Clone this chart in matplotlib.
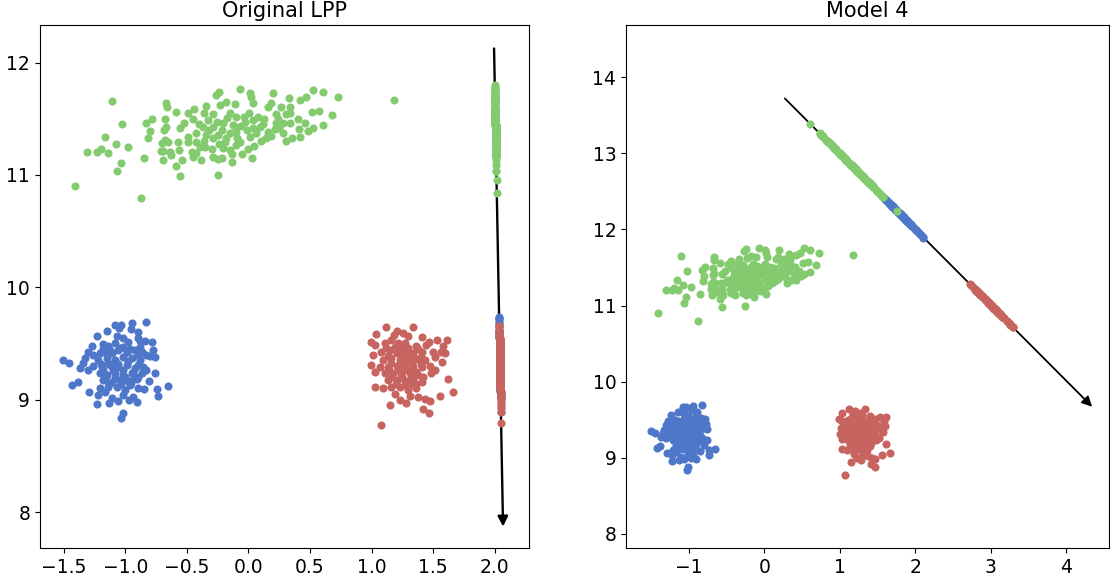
import numpy as np
import matplotlib
matplotlib.use('Agg')
import matplotlib.pyplot as plt

# cluster points (x, y)
green_points = [
    (-1.111, 11.657), (1.181, 11.666), (-1.411, 10.898), (-0.875, 10.791), (-1.308, 11.207),
    (-1.227, 11.207), (-1.197, 11.230), (-1.143, 11.200), (-1.162, 11.337), (-1.078, 11.275),
    (-1.029, 11.450), (-0.975, 11.248), (-1.035, 11.106), (-1.065, 11.038), (-0.848, 11.147),
    (-0.556, 10.987), (-0.250, 10.996), (-0.827, 11.465), (-0.783, 11.500), (-0.800, 11.394),
    (-0.813, 11.325), (-0.066, 11.761), (-0.242, 11.740), (-0.266, 11.711), (0.015, 11.726),
    (0.023, 11.696), (0.199, 11.726), (0.326, 11.681), (0.418, 11.669), (0.472, 11.690),
    (0.526, 11.755), (0.610, 11.735), (0.726, 11.690), (0.034, 11.643), (0.185, 11.643),
    (-0.110, 11.631), (-0.183, 11.646), (-0.231, 11.619), (-0.670, 11.643), (-0.664, 11.601),
    (-0.340, 11.616), (-0.442, 11.583), (-0.488, 11.548), (-0.586, 11.557), (-0.286, 11.539),
    (-0.358, 11.548), (-0.150, 11.548), (-0.102, 11.518), (-0.037, 11.512), (0.004, 11.548),
    (0.077, 11.512), (0.126, 11.497), (0.156, 11.607), (0.267, 11.607), (0.223, 11.542),
    (0.302, 11.542), (0.342, 11.601), (0.340, 11.548), (0.518, 11.560), (0.575, 11.571),
    (0.683, 11.530), (0.608, 11.444), (0.521, 11.417), (0.481, 11.394), (0.408, 11.405),
    (0.342, 11.459), (0.283, 11.459), (0.221, 11.459), (0.215, 11.411), (0.278, 11.376),
    (0.351, 11.331), (0.416, 11.340), (0.305, 11.302), (0.156, 11.385), (0.142, 11.325),
    (0.094, 11.429), (0.039, 11.414), (-0.015, 11.399), (0.012, 11.340), (-0.069, 11.296),
    (-0.096, 11.325), (0.047, 11.260), (-0.053, 11.189), (0.028, 11.147), (-0.131, 11.186),
    (-0.131, 11.112), (-0.218, 11.147), (-0.245, 11.138), (-0.296, 11.228), (-0.204, 11.236),
    (-0.191, 11.296), (-0.150, 11.370), (-0.218, 11.399), (-0.286, 11.429), (-0.258, 11.474),
    (-0.204, 11.459), (-0.123, 11.444), (-0.177, 11.503), (-0.326, 11.488), (-0.367, 11.429),
    (-0.340, 11.355), (-0.286, 11.325), (-0.421, 11.370), (-0.421, 11.296), (-0.394, 11.251),
    (-0.421, 11.192), (-0.448, 11.162), (-0.388, 11.132), (-0.488, 11.296), (-0.494, 11.340),
    (-0.524, 11.459), (-0.556, 11.414), (-0.570, 11.296), (-0.561, 11.221), (-0.542, 11.132),
    (-0.588, 11.082), (-0.624, 11.177), (-0.656, 11.296), (-0.678, 11.310), (-0.691, 11.216),
    (-0.713, 11.216), (-0.691, 11.132), (-0.705, 11.287), (-0.686, 11.399), (-0.678, 11.494),
    (-0.670, 11.429), (-0.637, 11.207), (-0.459, 11.207), (-0.286, 11.162), (0.034, 11.488),
    (-0.060, 11.440), (-0.100, 11.380), (0.100, 11.300), (0.250, 11.420), (-0.350, 11.250),
    (-0.400, 11.450), (-0.320, 11.400), (-0.250, 11.360), (-0.180, 11.330), (-0.100, 11.430),
    (-0.030, 11.470), (0.060, 11.370), (0.120, 11.450), (-0.360, 11.300), (-0.240, 11.280),
    (-0.100, 11.270), (0.000, 11.230), (0.180, 11.350), (0.240, 11.500), (-0.450, 11.500),
    (0.400, 11.500), (0.460, 11.460), (-0.150, 11.220),
]

blue_points = [
    (-0.827, 9.691), (-1.084, 9.665), (-1.035, 9.665), (-1.049, 9.635), (-0.946, 9.679),
    (-0.956, 9.629), (-0.892, 9.605), (-1.151, 9.608), (-1.232, 9.567), (-1.065, 9.570),
    (-1.016, 9.549), (-0.976, 9.516), (-0.900, 9.549), (-0.881, 9.522), (-0.840, 9.525),
    (-0.781, 9.510), (-1.273, 9.478), (-1.184, 9.496), (-1.084, 9.501), (-1.021, 9.472),
    (-0.772, 9.442), (-1.300, 9.427), (-1.327, 9.368), (-1.341, 9.329), (-1.508, 9.353),
    (-1.454, 9.329), (-1.368, 9.279), (-1.300, 9.264), (-1.265, 9.300), (-1.205, 9.413),
    (-1.165, 9.427), (-1.111, 9.413), (-1.057, 9.442), (-0.989, 9.427), (-0.921, 9.442),
    (-0.867, 9.427), (-0.827, 9.398), (-1.219, 9.353), (-1.151, 9.368), (-1.084, 9.353),
    (-1.016, 9.383), (-0.948, 9.368), (-0.881, 9.353), (-1.192, 9.294), (-1.124, 9.309),
    (-1.057, 9.294), (-0.989, 9.309), (-0.921, 9.279), (-0.854, 9.294), (-0.827, 9.264),
    (-1.205, 9.234), (-1.151, 9.220), (-1.084, 9.234), (-1.016, 9.220), (-0.948, 9.234),
    (-0.894, 9.205), (-0.759, 9.234), (-1.178, 9.175), (-1.111, 9.160), (-1.043, 9.175),
    (-0.975, 9.169), (-0.908, 9.181), (-0.805, 9.169), (-1.387, 9.160), (-1.430, 9.131),
    (-1.205, 9.101), (-1.138, 9.110), (-1.070, 9.116), (-1.002, 9.086), (-0.900, 9.107),
    (-0.848, 9.092), (-0.740, 9.098), (-0.656, 9.122), (-1.295, 9.068), (-1.219, 9.042),
    (-1.165, 9.071), (-1.111, 9.012), (-1.062, 8.988), (-1.016, 9.042), (-0.967, 8.997),
    (-0.940, 9.027), (-0.908, 8.979), (-0.732, 9.033), (-1.227, 8.962), (-1.016, 8.885),
    (-1.030, 8.834), (-1.130, 8.970), (-0.880, 9.470), (-0.800, 9.390), (-0.760, 9.380),
    (-1.260, 9.400), (-1.140, 9.480), (-0.960, 9.130), (-1.090, 9.290),
    (-1.180, 9.450), (-1.120, 9.440), (-1.040, 9.460), (-0.960, 9.450), (-0.900, 9.400),
    (-1.200, 9.320), (-1.140, 9.330), (-1.060, 9.320), (-0.980, 9.340), (-0.900, 9.310),
    (-1.180, 9.260), (-1.100, 9.260), (-1.020, 9.260), (-0.940, 9.250), (-0.860, 9.240),
    (-1.160, 9.190), (-1.080, 9.190), (-1.000, 9.200), (-0.930, 9.200), (-1.130, 9.140),
    (-1.030, 9.140), (-0.950, 9.150),
]

red_points = [
    (1.116, 9.644), (1.333, 9.644), (1.035, 9.584), (1.203, 9.614), (1.257, 9.590),
    (1.297, 9.567), (0.992, 9.516), (1.027, 9.487), (1.108, 9.501), (1.162, 9.531),
    (1.216, 9.501), (1.270, 9.501), (1.406, 9.555), (1.468, 9.516), (1.533, 9.531),
    (1.614, 9.531), (1.446, 9.487), (1.581, 9.478), (1.013, 9.398), (1.081, 9.427),
    (1.148, 9.442), (1.203, 9.413), (1.270, 9.427), (1.338, 9.413), (1.406, 9.427),
    (1.500, 9.427), (1.568, 9.427), (1.595, 9.413), (1.094, 9.353), (1.162, 9.368),
    (1.230, 9.353), (1.297, 9.353), (1.365, 9.359), (1.433, 9.353), (1.514, 9.383),
    (1.576, 9.338), (0.999, 9.309), (1.067, 9.294), (1.135, 9.294), (1.203, 9.300),
    (1.270, 9.288), (1.338, 9.294), (1.406, 9.288), (1.473, 9.300), (1.514, 9.264),
    (1.027, 9.249), (1.108, 9.234), (1.176, 9.240), (1.243, 9.229), (1.311, 9.234),
    (1.379, 9.220), (1.479, 9.234), (1.135, 9.175), (1.203, 9.175), (1.270, 9.169),
    (1.338, 9.175), (1.406, 9.160), (1.617, 9.184), (1.027, 9.116), (1.094, 9.101),
    (1.162, 9.116), (1.230, 9.110), (1.297, 9.086), (1.365, 9.101), (1.663, 9.065),
    (1.311, 9.033), (1.379, 9.021), (1.433, 9.003), (1.473, 8.991), (1.554, 9.033),
    (1.230, 8.997), (1.148, 8.950), (1.284, 8.968), (1.419, 8.914), (1.465, 8.879),
    (1.073, 8.772), (1.180, 9.580), (1.360, 9.480), (1.250, 9.460), (1.320, 9.140),
    (1.190, 9.050),
    (1.120, 9.460), (1.190, 9.470), (1.300, 9.460), (1.380, 9.450), (1.130, 9.390),
    (1.250, 9.390), (1.310, 9.390), (1.400, 9.380), (1.160, 9.330), (1.260, 9.320),
    (1.330, 9.330), (1.400, 9.320), (1.140, 9.260), (1.220, 9.260), (1.290, 9.260),
    (1.360, 9.250), (1.170, 9.200), (1.250, 9.200), (1.320, 9.200), (1.420, 9.200),
    (1.200, 9.140), (1.280, 9.130), (1.360, 9.140),
]

# projection directions drawn as arrows: (start, tip)
arrow_lpp = [(1.995, 12.126), (2.068, 7.870)]
arrow_model4 = [(0.272, 13.720), (4.347, 9.671)]

titles = ['Original LPP', 'Model 4']

col_green = '#84cb6f'
col_blue = '#4f77c9'
col_red = '#c8645f'


def project(points, arrow):
    # orthogonal projection of the points onto the arrow's line
    pts = np.array(points)
    p0 = np.array(arrow[0])
    d = np.array(arrow[1]) - p0
    d = d / np.linalg.norm(d)
    t = (pts - p0) @ d
    foot = p0 + np.outer(t, d)
    return foot[:, 0], foot[:, 1]


fig = plt.figure(figsize=(11.1, 5.81), dpi=100)
ax1 = fig.add_axes([0.036, 0.0568, 0.4405, 0.900])
ax2 = fig.add_axes([0.564, 0.0568, 0.4355, 0.900])

for ax, arrow, title in [(ax1, arrow_lpp, titles[0]), (ax2, arrow_model4, titles[1])]:
    lw = 1.7 if ax is ax1 else 1.3
    ax.annotate('', xy=arrow[1], xytext=arrow[0],
                arrowprops=dict(arrowstyle='-|>', color='black', lw=lw,
                                mutation_scale=15, shrinkA=0, shrinkB=0),
                zorder=0.5)
    for pts, c in [(blue_points, col_blue), (red_points, col_red), (green_points, col_green)]:
        arr = np.array(pts)
        ax.scatter(arr[:, 0], arr[:, 1], s=34, color=c, linewidths=0)
        px, py = project(pts, arrow)
        ax.scatter(px, py, s=34, color=c, linewidths=0)
    ax.set_title(title, fontsize=15)
    ax.tick_params(labelsize=13.5)

ax1.set_xlim(-1.692, 2.278)
ax1.set_ylim(7.68, 12.334)
ax1.set_xticks([-1.5, -1.0, -0.5, 0.0, 0.5, 1.0, 1.5, 2.0])
ax1.set_yticks([8, 9, 10, 11, 12])

ax2.set_xlim(-1.834, 4.576)
ax2.set_ylim(7.816, 14.683)
ax2.set_xticks([-1, 0, 1, 2, 3, 4])
ax2.set_yticks([8, 9, 10, 11, 12, 13, 14])

fig.savefig('out.png', dpi=100)
